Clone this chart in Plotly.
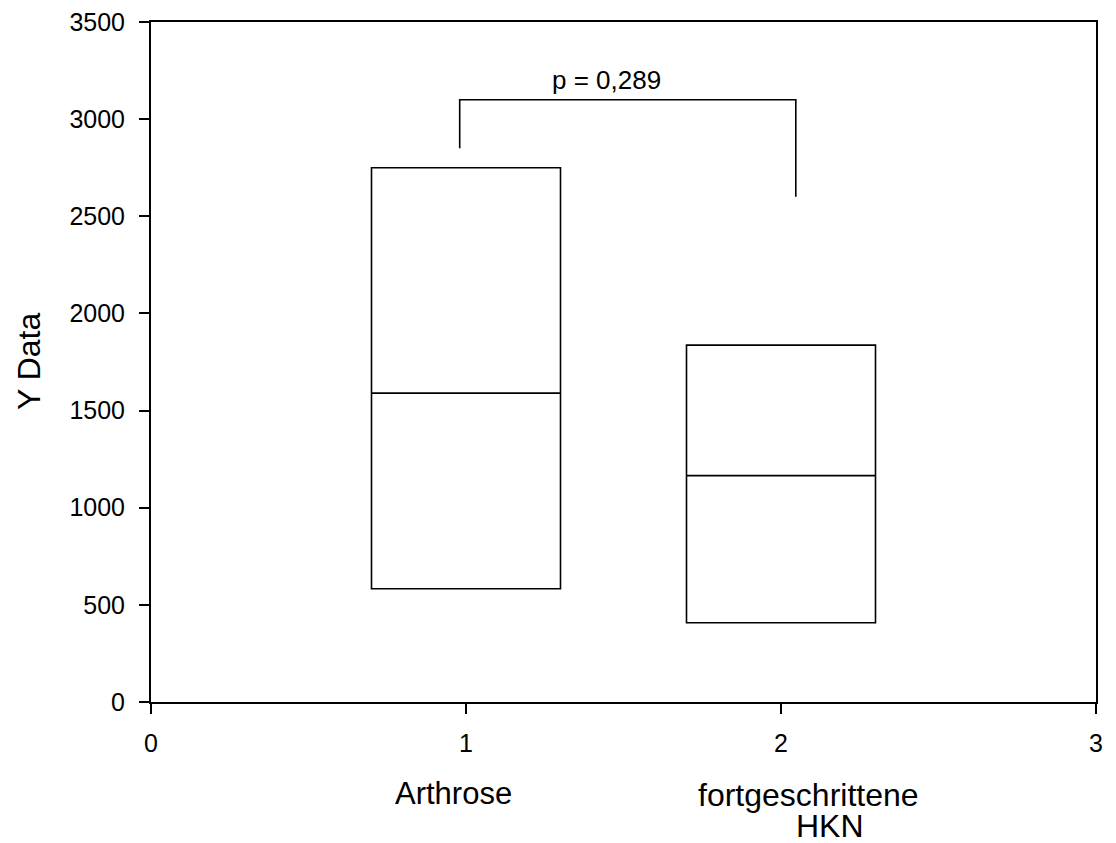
import plotly.graph_objects as go

# Data
positions = [1, 2]
q1_vals = [583, 408]
median_vals = [1590, 1165]
q3_vals = [2750, 1837]

bracket_x = [0.98, 0.98, 2.047, 2.047]
bracket_y = [2850, 3100, 3100, 2600]
p_label = "p = 0,289"
p_pos = (1.445, 3200)

x_ticks = [0, 1, 2, 3]
y_ticks = [0, 500, 1000, 1500, 2000, 2500, 3000, 3500]

FONT = "Liberation Sans, Arial, sans-serif"

fig = go.Figure()
fig.add_trace(go.Box(
    x=positions, q1=q1_vals, median=median_vals, q3=q3_vals,
    lowerfence=q1_vals, upperfence=q3_vals,
    width=0.6, whiskerwidth=0, boxpoints=False,
    fillcolor="white", line=dict(color="black", width=1.6),
    showlegend=False, hoverinfo="skip",
))
fig.add_trace(go.Scatter(
    x=bracket_x, y=bracket_y, mode="lines",
    line=dict(color="black", width=1.6), showlegend=False, hoverinfo="skip",
))

fig.add_annotation(x=p_pos[0], y=p_pos[1], xref="x", yref="y", text=p_label,
                   showarrow=False, font=dict(size=26, color="black", family=FONT),
                   xanchor="center", yanchor="middle")

# Category labels below axis
fig.add_annotation(x=0.961, y=0, xref="x", yref="paper", text="Arthrose",
                   showarrow=False, yshift=-91, xanchor="center", yanchor="middle",
                   font=dict(size=31, color="black", family=FONT))
fig.add_annotation(x=2.087, y=0, xref="x", yref="paper", text="fortgeschrittene",
                   showarrow=False, yshift=-93, xanchor="center", yanchor="middle",
                   font=dict(size=32, color="black", family=FONT))
fig.add_annotation(x=2.157, y=0, xref="x", yref="paper", text="HKN",
                   showarrow=False, yshift=-124, xanchor="center", yanchor="middle",
                   font=dict(size=32, color="black", family=FONT))

# Y title
fig.add_annotation(x=0, y=0.5, xref="paper", yref="paper", text="Y Data",
                   showarrow=False, xshift=-122, textangle=-90,
                   xanchor="center", yanchor="middle",
                   font=dict(size=32, color="black", family=FONT))

fig.update_xaxes(range=[0, 3], tickvals=x_ticks, ticktext=[str(t) for t in x_ticks],
                 showline=True, mirror=True, linecolor="black", linewidth=2,
                 ticks="outside", ticklen=10, tickwidth=2, tickcolor="black",
                 showgrid=False, zeroline=False, ticklabelstandoff=8,
                 automargin=False, ticklabeloverflow="allow",
                 tickfont=dict(size=25, color="black", family=FONT))
fig.update_yaxes(range=[0, 3500], tickvals=y_ticks, ticktext=[str(t) for t in y_ticks],
                 showline=True, mirror=True, linecolor="black", linewidth=2,
                 ticks="outside", ticklen=10, tickwidth=2, tickcolor="black",
                 showgrid=False, zeroline=False, ticklabelstandoff=9,
                 automargin=False, ticklabeloverflow="allow",
                 tickfont=dict(size=25, color="black", family=FONT))

# page body has an 8px margin; size the figure so the plot lands where the reference has it
fig.update_layout(
    width=1108, height=835,
    margin=dict(l=143, r=20, t=14, b=141, pad=0, autoexpand=False),
    plot_bgcolor="white", paper_bgcolor="white",
    font=dict(family=FONT, color="black"),
)

fig.write_html("out.html")
